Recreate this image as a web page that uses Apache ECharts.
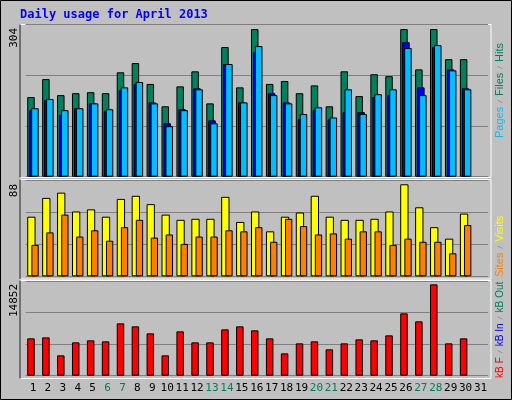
<!DOCTYPE html>
<html>
<head>
<meta charset="utf-8">
<script src="https://cdn.jsdelivr.net/npm/echarts@6/dist/echarts.min.js"></script>
<style>html,body{margin:0;padding:0;background:#c0c0c0}#main{width:512px;height:400px}</style>
</head>
<body>
<div id="main"></div>
<script>
// 日期
var days = [];
for (var i = 1; i <= 31; i++) days.push(String(i));
var weekend = ['6','7','13','14','20','21','27','28'];

// 每日数据 (4月只有30天)
var hits  = [164,201,168,172,174,172,215,234,191,145,186,217,151,267,184,304,191,197,172,188,145,217,166,211,207,304,221,304,242,242];
var files = [141,160,137,141,151,139,184,195,151,104,137,180,110,232,153,269,168,151,129,143,122,180,129,170,180,265,168,271,219,180];
var pages = [137,158,127,141,151,135,178,191,153,110,139,182,116,232,153,257,172,153,118,137,118,133,133,164,168,277,184,267,221,182];
var visits = [57,75,80,62,64,57,74,77,69,59,54,55,55,76,52,62,43,57,61,77,57,54,54,55,62,88,66,47,36,60];
var sites  = [30,42,59,38,44,34,47,54,37,40,31,38,38,44,43,47,33,55,48,40,41,36,43,43,30,36,33,33,22,49];
var kbytes = [6071,6233,3306,5420,5745,5583,8509,8022,6883,3306,7209,5420,5420,7534,8022,7371,6071,3631,5258,5583,4282,5258,5908,5745,6558,10135,8835,14852,5258,6071];

var maxTop = 313, maxMid = 92.1, maxBot = 15394;
var mono = 'DejaVu Sans Mono';
var chart = echarts.init(document.getElementById('main'));

function yAx(idx, max) {
  return {
    type: 'value', gridIndex: idx, min: 0, max: max, interval: max / 3,
    axisLabel: {show: false}, axisLine: {show: false}, axisTick: {show: false},
    splitLine: {show: true, lineStyle: {color: '#808080', width: 1}}
  };
}
function xAx(idx, showLabel) {
  return {
    type: 'category', gridIndex: idx, data: days,
    axisLine: {show: false}, axisTick: {show: false}, splitLine: {show: false},
    axisLabel: {
      show: showLabel, interval: 0, fontFamily: mono, fontSize: 11, margin: 7,
      color: function (v) { return weekend.indexOf(v) >= 0 ? '#00805c' : '#000'; }
    }
  };
}
function bar(name, x, y, data, color, w, extra) {
  var s = {
    name: name, type: 'bar', xAxisIndex: x, yAxisIndex: y, data: data,
    barWidth: w, animation: false,
    itemStyle: {color: color, borderColor: '#000', borderWidth: 1}
  };
  for (var k in extra) s[k] = extra[k];
  return s;
}
function frame(y, h) {
  return [
    {type: 'rect', shape: {x: 20, y: y, width: 471, height: h}, style: {fill: 'none', stroke: '#fff', lineWidth: 1}},
    {type: 'line', shape: {x1: 20, y1: y, x2: 20, y2: y + h}, style: {stroke: '#000', lineWidth: 1}}
  ];
}
// 右侧竖排图例, 从下往上读
function vtext(x, y, size, rich, txt) {
  rich.s = {fill: '#808080', fontSize: 6, fontFamily: mono};
  rich.p = {fontSize: 5, fontFamily: mono};
  return {type: 'text', x: x, y: y, rotation: Math.PI / 2,
    style: {text: txt, rich: rich, font: size + 'px ' + mono, align: 'left', verticalAlign: 'middle'}};
}

var graphics = [].concat(
  frame(24.5, 153), frame(179.5, 99.5), frame(280.5, 98),
  [
    {type: 'rect', shape: {x: 0.5, y: 0.5, width: 511, height: 399}, style: {fill: 'none', stroke: '#000', lineWidth: 1}},
    {type: 'text', x: 20, y: 15, style: {text: 'Daily usage for April 2013', font: 'bold 12px ' + mono, fill: '#0000ff', verticalAlign: 'middle'}},
    {type: 'text', x: 14, y: 28, rotation: Math.PI / 2, style: {text: '304', font: '11px ' + mono, fill: '#000', align: 'right', verticalAlign: 'middle'}},
    {type: 'text', x: 14, y: 184, rotation: Math.PI / 2, style: {text: '88', font: '11px ' + mono, fill: '#000', align: 'right', verticalAlign: 'middle'}},
    {type: 'text', x: 14, y: 284, rotation: Math.PI / 2, style: {text: '14852', font: '11px ' + mono, fill: '#000', align: 'right', verticalAlign: 'middle'}},
    vtext(500, 138, 11, {a: {fill: '#00bfff', fontSize: 11}, b: {fill: '#00805c', fontSize: 11}},
      '{a|Pages}{s| / }{b|Files}{s| / }{b|Hits}'),
    vtext(500, 277, 11, {a: {fill: '#ff8000', fontSize: 11}, b: {fill: '#ffff00', fontSize: 11}},
      '{a|Sites}{s| / }{b|Visits}'),
    vtext(500, 378, 10, {a: {fill: '#ff0000', fontSize: 10}, b: {fill: '#0000ff', fontSize: 10}, c: {fill: '#00805c', fontSize: 10}},
      '{a|kB}{p| }{a|F}{s| / }{b|kB}{p| }{b|In}{s| / }{c|kB}{p| }{c|Out}')
  ]
);

var option = {
  backgroundColor: '#c0c0c0',
  animation: false,
  grid: [
    {left: 25.5, width: 462.5, top: 24.7, height: 152},
    {left: 25.5, width: 462.5, top: 180, height: 96.3},
    {left: 25.5, width: 462.5, top: 281, height: 94.7}
  ],
  xAxis: [xAx(0, false), xAx(0, false), xAx(1, false), xAx(2, true)],
  yAxis: [yAx(0, maxTop), yAx(1, maxMid), yAx(2, maxBot)],
  series: [
    bar('Hits', 0, 0, hits, '#00805c', 7.5, {barGap: '-47%', z: 1}),
    bar('Files', 0, 0, files, '#00bfff', 7.5, {z: 3}),
    bar('Pages', 1, 0, pages, '#0000ff', 7.5, {z: 2}),
    bar('Visits', 2, 1, visits, '#ffff00', 8.3, {barGap: '-50%'}),
    bar('Sites', 2, 1, sites, '#ff8000', 7.3, {}),
    bar('kB F', 3, 2, kbytes, '#ff0000', 7.5, {barGap: '-47%'}),
    bar('kB In', 3, 2, [], '#0000ff', 7.5, {})
  ],
  graphic: graphics
};
chart.setOption(option);
</script>
</body>
</html>
